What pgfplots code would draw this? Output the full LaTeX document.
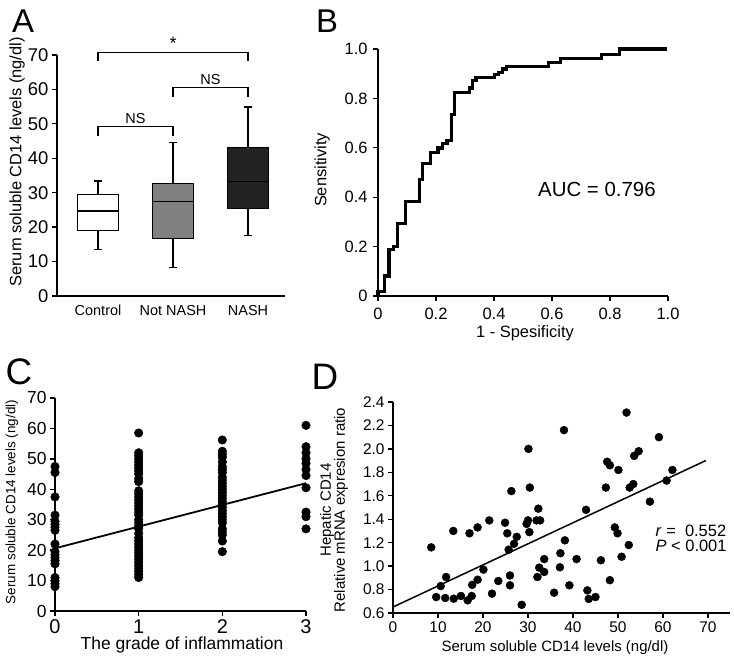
\documentclass[border=0pt]{standalone}
\usepackage{fontspec}
\setmainfont{Liberation Sans}
\usepackage{pgfplots}
\pgfplotsset{compat=1.18}
\usepgfplotslibrary{statistics}
\newcommand\fs[1]{\fontsize{#1}{#1}\selectfont}
\definecolor{boxgray}{HTML}{808080}
\definecolor{boxdark}{HTML}{222222}
\pgfplotsset{
  base/.style={scale only axis, anchor=south west,
    axis x line=bottom, axis y line=left,
    axis line style={-, line width=1.3bp, black},
    tick align=outside, major tick length=5bp,
    tick style={line width=1.3bp, black},
    /pgf/number format/assume math mode=true, clip=false},
}
\begin{document}
\begin{tikzpicture}[x=1bp,y=1bp]
\useasboundingbox (0,0) rectangle (734,660);

% ---------------- Panel A ----------------
\begin{axis}[base, at={(57bp,364bp)}, width=228bp, height=241bp,
  xmin=-0.547, xmax=2.493, ymin=0, ymax=70,
  ytick={0,10,20,30,40,50,60,70},
  xtick={0,1,2}, xticklabels={Control,Not NASH,NASH},
  x tick style={draw=none},
  yticklabel style={font=\fs{18.5}},
  xticklabel style={font=\fs{14.5}, yshift=-1bp},
  boxplot/draw direction=y]
\addplot[boxplot prepared={draw position=0, lower whisker=13.4, lower quartile=19.1,
  median=24.7, upper quartile=29.4, upper whisker=33.4, box extend=0.55, whisker extend=0.107},
  draw=black, fill=white, line width=1.2bp] coordinates {};
\addplot[boxplot prepared={draw position=1, lower whisker=8.3, lower quartile=16.8,
  median=27.4, upper quartile=32.6, upper whisker=44.6, box extend=0.55, whisker extend=0.107},
  draw=black, fill=boxgray, line width=1.2bp] coordinates {};
\addplot[boxplot prepared={draw position=2, lower whisker=17.5, lower quartile=25.3,
  median=33.2, upper quartile=43.1, upper whisker=54.9, box extend=0.55, whisker extend=0.107},
  draw=black, fill=boxdark, line width=1.2bp] coordinates {};
\draw[line width=1.2bp] (axis cs:0,68.2) -- (axis cs:0,70.8) -- (axis cs:2,70.8) -- (axis cs:2,68.2);
\draw[line width=1.2bp] (axis cs:1,57.9) -- (axis cs:1,60.6) -- (axis cs:2,60.6) -- (axis cs:2,57.9);
\draw[line width=1.2bp] (axis cs:0,46.5) -- (axis cs:0,49.2) -- (axis cs:1,49.2) -- (axis cs:1,46.5);
\node[font=\fs{18}] at (axis cs:1,73.4) {*};
\node[font=\fs{14.5}] at (axis cs:1.5,62.8) {NS};
\node[font=\fs{14.5}] at (axis cs:0.5,51.6) {NS};
\end{axis}
\node[font=\fs{16.5}, rotate=90] at (17,498) {Serum soluble CD14 levels (ng/dl)};
\node[font=\fs{33}] at (23,639) {A};

% ---------------- Panel B ----------------
\begin{axis}[base, at={(378bp,364bp)}, width=290bp, height=247bp,
  xmin=0, xmax=1, ymin=0, ymax=1,
  xtick={0,0.2,0.4,0.6,0.8,1}, xticklabels={0,0.2,0.4,0.6,0.8,1.0},
  ytick={0,0.2,0.4,0.6,0.8,1}, yticklabels={0,0.2,0.4,0.6,0.8,1.0},
  ticklabel style={font=\fs{16.5}},
  xticklabel style={yshift=-4bp},
  yticklabel style={xshift=-2bp}]
\addplot[const plot, black, line width=3.2bp, mark=none, line join=miter] coordinates {
(0,0) (0,0.018) (0.023,0.081) (0.038,0.189) (0.054,0.2) (0.066,0.295) (0.096,0.382)
(0.142,0.473) (0.153,0.538) (0.182,0.581) (0.207,0.599) (0.222,0.616) (0.238,0.630)
(0.253,0.734) (0.265,0.824) (0.315,0.842) (0.326,0.873) (0.338,0.886) (0.403,0.896)
(0.415,0.905) (0.430,0.919) (0.444,0.930) (0.588,0.946) (0.630,0.961) (0.772,0.977)
(0.833,1.0) (0.997,1.0)};
\node[font=\fs{20.5}] at (axis cs:0.755,0.433) {AUC = 0.796};
\end{axis}
\node[font=\fs{16.5}, rotate=90] at (322,490) {Sensitivity};
\node[font=\fs{16.5}] at (525,327) {1 - Spesificity};
\node[font=\fs{33}] at (327,639) {B};

% ---------------- Panel C ----------------
\begin{axis}[base, at={(55bp,49bp)}, width=251bp, height=213bp,
  xmin=0, xmax=3, ymin=0, ymax=70,
  xtick={0,1,2,3}, ytick={0,10,20,30,40,50,60,70},
  yticklabel style={font=\fs{17.5}},
  xticklabel style={font=\fs{20}},
  axis line style={-, line width=1.8bp}]
\addplot[only marks, mark=*, mark size=4.3bp, black] coordinates {
(0,47.5) (0,45.5) (0,37.5) (0,31.5) (0,29.5) (0,28.5) (0,27.5) (0,26.5) (0,22)
(0,19.5) (0,18.5) (0,17.5) (0,16.5) (0,15.5) (0,11) (0,10) (0,9) (0,8)
(1,58.5) (1,52) (1,51) (1,50) (1,49) (1,48) (1,47) (1,46) (1,45) (1,43.5) (1,42.5)
(1,39.5) (1,38.5) (1,37.5) (1,36.5) (1,35.5) (1,34.5) (1,33.5) (1,32.5) (1,31.5)
(1,30) (1,29) (1,28) (1,27) (1,25.5) (1,24) (1,23) (1,22) (1,21) (1,20) (1,19)
(1,18) (1,17) (1,16) (1,15) (1,14) (1,13) (1,12) (1,11)
(2,56.2) (2,52.5) (2,51.5) (2,50.5) (2,49) (2,47.5) (2,46.5) (2,45.5) (2,44) (2,43)
(2,42) (2,41) (2,40) (2,39) (2,38) (2,37) (2,36) (2,35) (2,34) (2,33) (2,32) (2,31)
(2,30) (2,29) (2,27) (2,26) (2,25) (2,23) (2,19.5)
(3,61) (3,54) (3,52) (3,50) (3,48.5) (3,46.5) (3,44.5) (3,40.5) (3,32.5) (3,31) (3,27)};
\addplot[black, line width=1.8bp, mark=none] coordinates {(0,20.6) (3,42.0)};
\end{axis}
\node[font=\fs{13.5}, rotate=90] at (12,158) {Serum soluble CD14 levels (ng/dl)};
\node[font=\fs{17.5}] at (182,15) {The grade of inflammation};
\node[font=\fs{37}] at (19,288) {C};

% ---------------- Panel D ----------------
\begin{axis}[base, at={(393bp,47bp)}, width=337bp, height=211bp,
  xmin=0, xmax=74.9, ymin=0.6, ymax=2.4,
  xtick={0,10,20,30,40,50,60,70},
  ytick={0.6,0.8,1.0,1.2,1.4,1.6,1.8,2.0,2.2,2.4},
  yticklabel style={/pgf/number format/.cd, fixed, fixed zerofill, precision=1},
  ticklabel style={font=\fs{15.5}}]
\addplot[only marks, mark=*, mark size=4bp, black] coordinates {
(8.5,1.16) (9.6,0.736) (10.6,0.83) (11.8,0.907) (11.6,0.728) (13.5,0.722) (13.4,1.30)
(15.1,0.745) (16.6,0.708) (17.0,1.28) (17.6,0.84) (17.5,0.745) (18.8,0.884) (18.8,1.33)
(20.1,0.97) (21.4,1.39) (22.0,0.765) (23.4,0.873) (24.9,1.37) (25.4,1.28) (25.7,1.14)
(26.0,0.92) (26.0,0.836) (26.3,1.64) (26.9,1.19) (27.5,1.25) (28.6,0.67) (29.7,1.36)
(30.0,1.39) (30.1,2.0) (30.3,1.29) (30.4,1.67) (31.9,1.39) (32.3,1.49) (32.7,1.39)
(32.1,0.907) (32.5,0.987) (33.6,1.06) (33.6,0.95) (35.8,0.773) (37.1,0.99) (37.2,1.11)
(38.0,2.16) (38.2,1.22) (39.2,0.836) (40.8,1.06) (42.9,1.48) (43.2,0.793) (43.5,0.72)
(45.0,0.736) (46.2,1.05) (48.2,0.88) (47.3,1.67) (47.6,1.89) (48.2,1.86) (49.3,1.33)
(49.9,1.28) (50.1,1.82) (50.8,1.08) (51.9,2.31) (52.4,1.18) (52.6,1.67) (53.4,1.70)
(53.6,1.94) (54.6,1.98) (57.1,1.55) (59.1,2.10) (60.8,1.73) (62.1,1.82)};
\addplot[black, line width=1.5bp, mark=none] coordinates {(0,0.651) (69.5,1.90)};
\node[font=\fs{16.5}, anchor=west] at (axis cs:57.6,1.305) {\textit{r} =\ \ 0.552};
\node[font=\fs{16.5}, anchor=west] at (axis cs:57.6,1.175) {\textit{P} < 0.001};
\end{axis}
\node[font=\fs{15}] at (555,12) {Serum soluble CD14 levels (ng/dl)};
\node[rotate=90, align=center, font={\fontsize{15}{14}\selectfont}] at (334,150) {Hepatic CD14\\Relative mRNA expresion ratio};
\node[font=\fs{37}] at (325,283) {D};
\end{tikzpicture}
\end{document}
